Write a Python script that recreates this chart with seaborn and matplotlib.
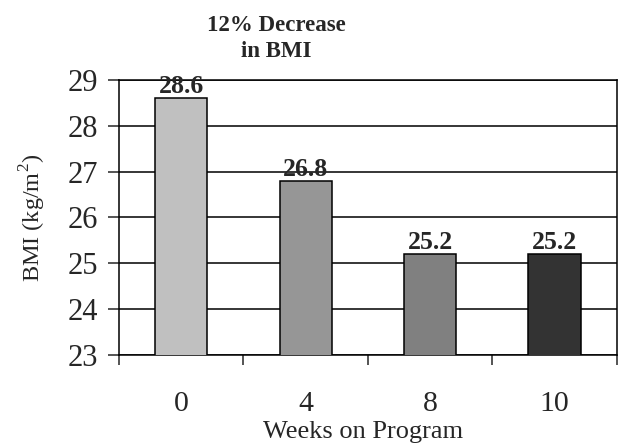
import matplotlib.pyplot as plt
import seaborn as sns
import pandas as pd

weeks = ["0", "4", "8", "10"]
bmi = [28.6, 26.8, 25.2, 25.2]
bar_colors = ["#C0C0C0", "#969696", "#808080", "#333333"]

sns.set_style("ticks")
plt.rcParams["font.family"] = ["Liberation Serif", "DejaVu Serif"]
plt.rcParams["mathtext.fontset"] = "custom"
plt.rcParams["mathtext.rm"] = "Liberation Serif"

df = pd.DataFrame({"week": weeks, "bmi": bmi})

fig = plt.figure(figsize=(6.23, 4.47), dpi=100)
ax = fig.add_axes([0.191, 0.206, 0.799, 0.615])

sns.barplot(data=df, x="week", y="bmi", hue="week", palette=bar_colors,
            legend=False, width=0.42, edgecolor="black", linewidth=1.1,
            ax=ax, zorder=3)

ax.set_ylim(23, 29)
ax.set_yticks(range(23, 30))
ax.set_xlim(-0.5, 3.5)
ax.yaxis.grid(True, color="black", linewidth=1.1, zorder=0)
for s in ax.spines.values():
    s.set_visible(True)
    s.set_color("black")
    s.set_linewidth(1.1)

# ticks between categories, labels centred
ax.set_xticks([-0.5, 0.5, 1.5, 2.5, 3.5], minor=True)
ax.tick_params(axis="x", which="minor", length=7.5, width=1.1, direction="out")
ax.tick_params(axis="x", which="major", length=0, pad=26, labelsize=21.5)
ax.tick_params(axis="y", length=8, width=1.1, direction="out", pad=7, labelsize=22)

for i, v in enumerate(bmi):
    ax.text(i, v, f"{v}", ha="center", va="bottom", fontsize=18.5,
            fontweight="bold", zorder=4)

ax.set_xlabel("Weeks on Program", fontsize=19)
ax.xaxis.set_label_coords(0.49, -0.24)
ax.set_ylabel("BMI (kg/m$^2$)", fontsize=17.5)
ax.yaxis.set_label_coords(-0.143, 0.5)

fig.text(0.443, 0.944, "12% Decrease", ha="center", va="center",
         fontsize=16.5, fontweight="bold")
fig.text(0.443, 0.884, "in BMI", ha="center", va="center",
         fontsize=16.5, fontweight="bold")

fig.savefig("out.png", dpi=100)
